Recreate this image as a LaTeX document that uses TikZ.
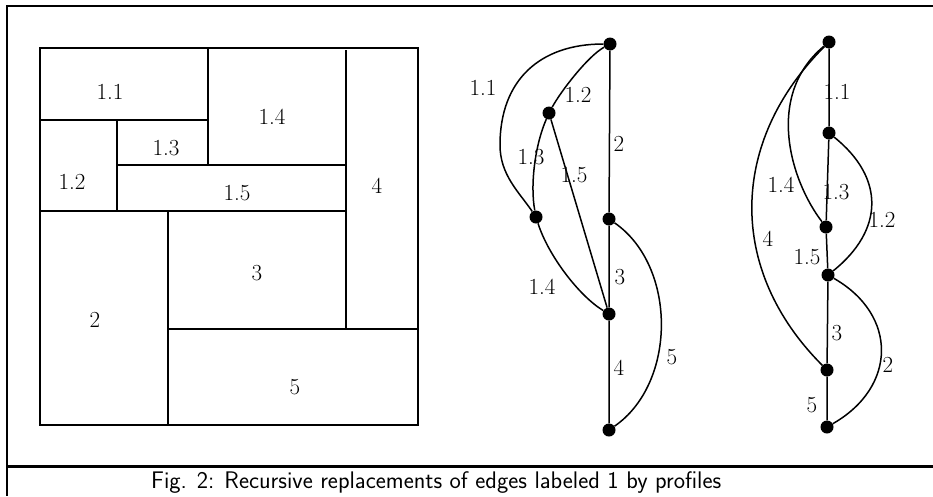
\documentclass[tikz,border=0pt]{standalone}
\usepackage{fontspec}
\begin{document}
\tikzset{
  lbl/.style={font=\fontsize{23}{27}\selectfont, inner sep=0pt},
  dot/.style={circle, fill=black, minimum size=13pt, inner sep=0pt},
  arc/.style={line width=1.5pt},
  wall/.style={line width=1.6pt},
  capt/.style={font=\sffamily\fontsize{24}{29}\selectfont, inner sep=0pt, anchor=base west},
}
\begin{tikzpicture}[x=1pt,y=-1pt]
\useasboundingbox (0,0) rectangle (933,496);
% frame
\draw[line width=2pt] (7,6) -- (933,6);
\draw[line width=2.3pt] (7,5) -- (7,496);
\draw[line width=3pt] (7,466) -- (933,466);
\node[capt] (cap) at (151,488) {Fig. 2: Recursive replacements of edges labeled 1 by profiles};

% rectangular dissection
\draw[wall] (40,48) rectangle (418,425);
\draw[wall] (208,48) -- (208,165);
\draw[wall] (40,120) -- (208,120);
\draw[wall] (117,120) -- (117,211);
\draw[wall] (117,165) -- (346,165);
\draw[wall] (346,50) -- (346,329);
\draw[wall] (40,211) -- (346,211);
\draw[wall] (168,211) -- (168,425);
\draw[wall] (168,329) -- (418,329);
\node[lbl] (r11) at (110,92) {1.1};
\node[lbl] (r14) at (272,117) {1.4};
\node[lbl] (r13) at (166,148) {1.3};
\node[lbl] (r12) at (72,182) {1.2};
\node[lbl] (r15) at (237,193) {1.5};
\node[lbl] (r4) at (377,186) {4};
\node[lbl] (r3) at (257,273) {3};
\node[lbl] (r2) at (95,320) {2};
\node[lbl] (r5) at (295,387) {5};

% middle graph
\node[dot] (A) at (610,44) {};
\node[dot] (B) at (549,113) {};
\node[dot] (C) at (536,217) {};
\node[dot] (D) at (609,219) {};
\node[dot] (E) at (609,314) {};
\node[dot] (F) at (609,430) {};
\coordinate (w11) at (500,145);
\draw[arc] (A) -- (D) -- (E) -- (F);
\draw[arc] (A) .. controls (540,44) and (500,80) .. (w11) .. controls (500,175) and (519,192) .. (C);
\draw[arc] (A) .. controls (588,56) and (561,91) .. (B);
\draw[arc] (B) .. controls (535,145) and (530,185) .. (C);
\draw[arc] (B) -- (E);
\draw[arc] (C) .. controls (548,255) and (579,296) .. (E);
\draw[arc] (D) .. controls (677,266) and (677,383) .. (F);
\node[lbl] (m11) at (483,88) {1.1};
\node[lbl] (m12) at (578,95) {1.2};
\node[lbl] (m2) at (619,144) {2};
\node[lbl] (m13) at (531,157) {1.3};
\node[lbl] (m15) at (574,175) {1.5};
\node[lbl] (m3) at (620,277) {3};
\node[lbl] (m14) at (542,287) {1.4};
\node[lbl] (m4) at (619,368) {4};
\node[lbl] (m5) at (672,357) {5};

% right graph
\node[dot] (P1) at (829,42) {};
\node[dot] (P2) at (829,133) {};
\node[dot] (P3) at (826,227) {};
\node[dot] (P4) at (828,275) {};
\node[dot] (P5) at (827,370) {};
\node[dot] (P6) at (827,427) {};
\draw[arc] (P1) -- (P2) -- (P3) -- (P4) -- (P5) -- (P6);
\draw[arc] (P1) .. controls (765,95) and (790,180) .. (P3);
\draw[arc] (P1) .. controls (729,142) and (727,270) .. (P5);
\draw[arc] (P2) .. controls (885,178) and (884,230) .. (P4);
\draw[arc] (P4) .. controls (898,315) and (897,387) .. (P6);
\node[lbl] (q11) at (837,92) {1.1};
\node[lbl] (q13) at (836,192) {1.3};
\node[lbl] (q14) at (781,185) {1.4};
\node[lbl] (q12) at (882,220) {1.2};
\node[lbl] (q4) at (768,239) {4};
\node[lbl] (q15) at (807,257) {1.5};
\node[lbl] (q3) at (837,333) {3};
\node[lbl] (q2) at (888,365) {2};
\node[lbl] (q5) at (812,405) {5};
\end{tikzpicture}
\end{document}
